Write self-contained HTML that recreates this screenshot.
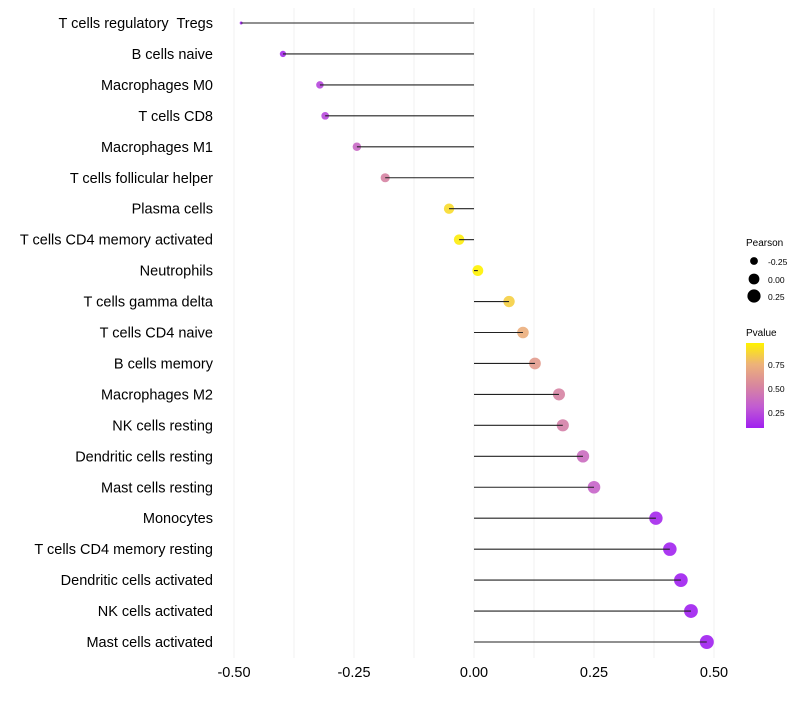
<!DOCTYPE html>
<html><head><meta charset="utf-8"><style>
body{margin:0;background:#fff;font-family:"Liberation Sans",sans-serif}
</style></head><body>
<svg id="chart" width="800" height="700" xmlns="http://www.w3.org/2000/svg" font-family="Liberation Sans, sans-serif">
<defs><linearGradient id="pg" x1="0" y1="1" x2="0" y2="0">
<stop offset="0" stop-color="#A020F0"/><stop offset="0.25" stop-color="#C25CD2"/><stop offset="0.5" stop-color="#D8879E"/><stop offset="0.75" stop-color="#EDB279"/><stop offset="1" stop-color="#FFF200"/></linearGradient></defs>
<g id="grid"></g><g id="points"></g><g id="marks"></g><g id="labels"></g>
<g>
<text x="746" y="246" font-size="10" fill="#000">Pearson</text>
<circle cx="754" cy="261" r="3.9" fill="#000"/><text x="768" y="265" font-size="8.5">-0.25</text>
<circle cx="754" cy="279" r="5.4" fill="#000"/><text x="768" y="283" font-size="8.5">0.00</text>
<circle cx="754" cy="296" r="6.6" fill="#000"/><text x="768" y="300" font-size="8.5">0.25</text>
<text x="746" y="336" font-size="10">Pvalue</text>
<rect x="746" y="343" width="18" height="85" fill="url(#pg)"/>
<text x="768" y="368" font-size="8.5">0.75</text>
<text x="768" y="392" font-size="8.5">0.50</text>
<text x="768" y="416" font-size="8.5">0.25</text>
</g>
</svg>
<script>
const cells=["T cells regulatory  Tregs","B cells naive","Macrophages M0","T cells CD8","Macrophages M1","T cells follicular helper","Plasma cells","T cells CD4 memory activated","Neutrophils","T cells gamma delta","T cells CD4 naive","B cells memory","Macrophages M2","NK cells resting","Dendritic cells resting","Mast cells resting","Monocytes","T cells CD4 memory resting","Dendritic cells activated","NK cells activated","Mast cells activated"];
const pearson=[-0.485,-0.398,-0.321,-0.310,-0.244,-0.185,-0.052,-0.031,0.008,0.073,0.102,0.127,0.177,0.185,0.227,0.250,0.379,0.408,0.431,0.452,0.485];
const pvalue=[0.10,0.14,0.24,0.25,0.38,0.52,0.90,0.96,0.98,0.86,0.74,0.64,0.52,0.50,0.40,0.36,0.13,0.11,0.10,0.10,0.10];
const ticks=[-0.5,-0.25,0,0.25,0.5];
const tickLabels=["-0.50","-0.25","0.00","0.25","0.50"];
const NS="http://www.w3.org/2000/svg";
const x=v=>474+v*480;
const y=i=>23+i*30.95;
const pmin=0.10,pmax=0.98;
const stops=[[160,32,240],[194,92,210],[216,135,158],[237,178,121],[255,242,0]];
function col(p){let t=Math.max(0,Math.min(1,(p-pmin)/(pmax-pmin)))*4;let k=Math.min(3,Math.floor(t));let f=t-k;let a=stops[k],b=stops[k+1];return `rgb(${a.map((c,j)=>Math.round(c+(b[j]-c)*f)).join(',')})`;}
const vmin=Math.min(...pearson),vmax=Math.max(...pearson);
const rad=v=>1.5+5.5*Math.sqrt((v-vmin)/(vmax-vmin));
function mk(tag,at,parent){const e=document.createElementNS(NS,tag);for(const k in at)e.setAttribute(k,at[k]);parent.appendChild(e);return e;}
const grid=document.getElementById('grid'),marks=document.getElementById('marks'),points=document.getElementById('points'),labels=document.getElementById('labels');
for(let v=-0.5;v<=0.5001;v+=0.125){const l=mk('line',{x1:x(v),x2:x(v),y1:8,y2:658,stroke:'#f0f0f0','stroke-width':1},grid);

}
ticks.forEach((t,i)=>{const e=mk('text',{x:x(t),y:677,'font-size':14.5,'text-anchor':'middle',fill:'#000'},labels);e.textContent=tickLabels[i];

});
cells.forEach((c,i)=>{
const t=mk('text',{x:213,y:y(i)+5,'font-size':14.5,'text-anchor':'end',fill:'#000'},labels);t.textContent=c;
t.style.whiteSpace='pre';


const ci=mk('circle',{cx:x(pearson[i]),cy:y(i),r:rad(pearson[i]),fill:col(pvalue[i]),'fill-opacity':0.9},points);


const ln=mk('line',{x1:x(0),x2:x(pearson[i]),y1:y(i),y2:y(i),stroke:'#222','stroke-width':1.1},marks);


});
</script>
</body></html>
